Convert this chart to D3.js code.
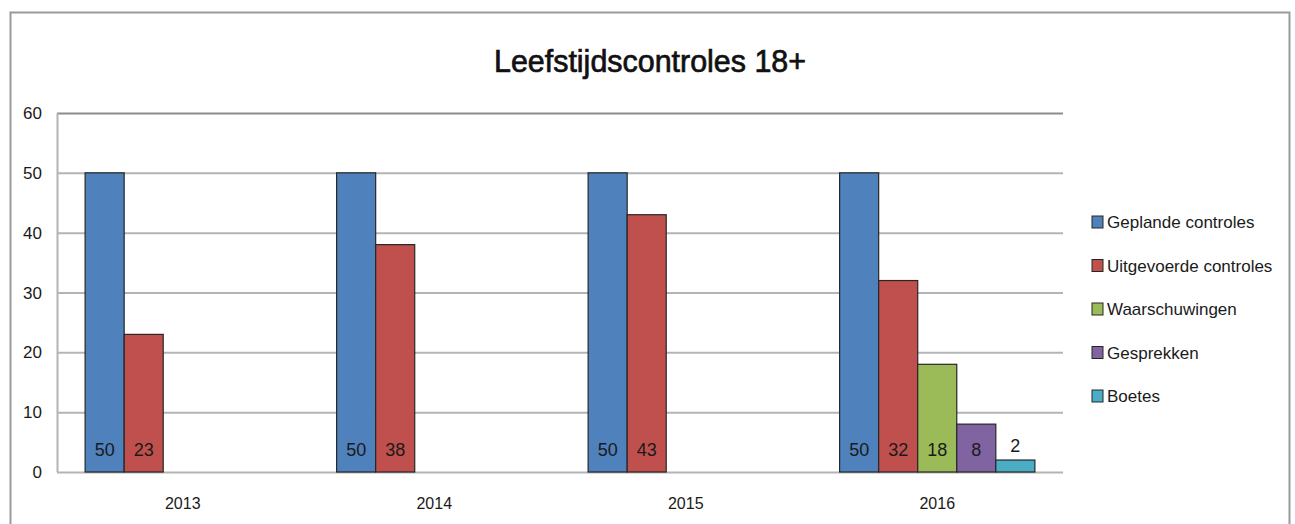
<!DOCTYPE html>
<html>
<head>
<meta charset="utf-8">
<script src="https://cdn.jsdelivr.net/npm/d3@7"></script>
<style>
  body { margin: 0; background: #fff; }
  text { font-family: "Liberation Sans", Arial, sans-serif; fill: #1a1a1a; }
</style>
</head>
<body>
<div id="chart"></div>
<script>
(function() {
  var width = 1295,
    height = 524;

  // data
  var years = ["2013", "2014", "2015", "2016"];
  var seriesNames = ["Geplande controles", "Uitgevoerde controles", "Waarschuwingen", "Gesprekken", "Boetes"];
  var geplande = [50, 50, 50, 50];
  var uitgevoerd = [23, 38, 43, 32];
  var waarschuwingen = [null, null, null, 18];
  var gesprekken = [null, null, null, 8];
  var boetes = [null, null, null, 2];
  var yTicks = [0, 10, 20, 30, 40, 50, 60];

  var seriesValues = [geplande, uitgevoerd, waarschuwingen, gesprekken, boetes];
  var colors = ["#4F81BD", "#C0504D", "#9BBB59", "#8064A2", "#4BACC6"];

  var svg = d3.select("#chart")
    .append("svg")
    .attr("width", width)
    .attr("height", height);

  // outer chart frame
  svg.append("path")
    .attr("d", "M10.5," + height + "V12.5H1289.5V" + height)
    .attr("fill", "none")
    .attr("stroke", "#9a9a9a")
    .attr("stroke-width", 2);

  svg.append("text")
    .attr("x", 650)
    .attr("y", 72)
    .attr("text-anchor", "middle")
    .attr("font-size", 31)
    .attr("textLength", 312)
    .attr("lengthAdjust", "spacingAndGlyphs")
    .style("fill", "#111")
    .style("stroke", "#111")
    .style("stroke-width", 0.7)
    .text("Leefstijdscontroles 18+");

  var plotLeft = 57, plotRight = 1063, plotTop = 113, plotBottom = 472;

  var x = d3.scaleBand()
    .domain(years)
    .range([plotLeft, plotRight]);

  var xInner = d3.scaleBand()
    .domain(d3.range(seriesNames.length))
    .range([0, x.bandwidth()])
    .paddingOuter(0.72);

  var y = d3.scaleLinear()
    .domain([0, 60])
    .range([plotBottom, plotTop]);

  // gridlines
  svg.append("g")
    .selectAll("line")
    .data(yTicks)
    .enter().append("line")
    .attr("x1", plotLeft)
    .attr("x2", plotRight)
    .attr("y1", function(d) { return y(d) + 0.5; })
    .attr("y2", function(d) { return y(d) + 0.5; })
    .attr("stroke", function(d) { return d === 60 ? "#8c8c8c" : "#b4b4b4"; })
    .attr("stroke-width", 2);

  // left axis line
  svg.append("line")
    .attr("x1", plotLeft + 0.5)
    .attr("x2", plotLeft + 0.5)
    .attr("y1", plotTop)
    .attr("y2", plotBottom)
    .attr("stroke", "#b4b4b4")
    .attr("stroke-width", 2);

  // y tick labels
  svg.append("g")
    .selectAll("text")
    .data(yTicks)
    .enter().append("text")
    .attr("x", 42)
    .attr("y", function(d) { return y(d) + 6; })
    .attr("text-anchor", "end")
    .attr("font-size", 17)
    .text(function(d) { return d; });

  // x labels
  svg.append("g")
    .selectAll("text")
    .data(years)
    .enter().append("text")
    .attr("x", function(d) { return x(d) + x.bandwidth() / 2; })
    .attr("y", 509)
    .attr("text-anchor", "middle")
    .attr("font-size", 16)
    .text(function(d) { return d; });

  // flatten bars
  var bars = [];
  seriesValues.forEach(function(vals, si) {
    vals.forEach(function(v, yi) {
      if (v !== null) bars.push({ series: si, year: years[yi], value: v });
    });
  });

  var groups = svg.append("g");

  groups.selectAll("rect")
    .data(bars)
    .enter().append("rect")
    .attr("x", function(d) { return x(d.year) + xInner(d.series); })
    .attr("y", function(d) { return y(d.value); })
    .attr("width", xInner.bandwidth())
    .attr("height", function(d) { return y(0) - y(d.value); })
    .attr("fill", function(d) { return colors[d.series]; })
    .attr("stroke", "#262626")
    .attr("stroke-width", 1.2);

  // value labels at inside base, above when the bar is too short
  groups.selectAll(".lbl")
    .data(bars)
    .enter().append("text")
    .attr("class", "lbl")
    .attr("x", function(d) { return x(d.year) + xInner(d.series) + xInner.bandwidth() / 2; })
    .attr("y", function(d) {
      var h = y(0) - y(d.value);
      return h < 30 ? y(d.value) - 8 : y(0) - 16;
    })
    .attr("text-anchor", "middle")
    .attr("font-size", 18)
    .text(function(d) { return d.value; });

  // legend
  var legend = svg.append("g")
    .selectAll("g")
    .data(seriesNames)
    .enter().append("g")
    .attr("transform", function(d, i) { return "translate(1092," + (216 + i * 43.5) + ")"; });

  legend.append("rect")
    .attr("width", 11)
    .attr("height", 12)
    .attr("fill", function(d, i) { return colors[i]; })
    .attr("stroke", "#262626")
    .attr("stroke-width", 1);

  legend.append("text")
    .attr("x", 15)
    .attr("y", 12)
    .attr("font-size", 17)
    .text(function(d) { return d; });
})();
</script>
</body>
</html>
